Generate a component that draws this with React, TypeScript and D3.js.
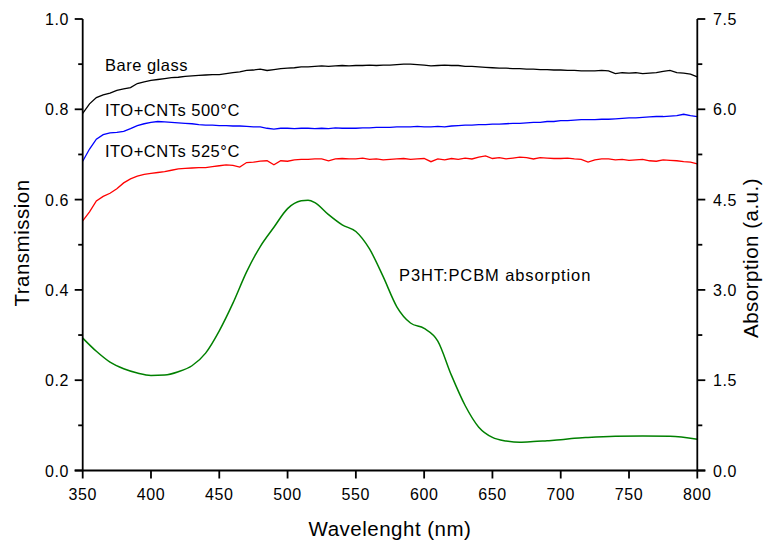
import React from "react";
import * as d3 from "d3";

const wavelengths: number[] = d3.range(350, 801, 5);

const bareGlass: number[] = [
  0.791, 0.812, 0.826, 0.832, 0.836, 0.842, 0.845, 0.848, 0.857, 0.861,
  0.864, 0.866, 0.868, 0.870, 0.871, 0.873, 0.874, 0.875, 0.876, 0.877,
  0.877, 0.879, 0.881, 0.883, 0.886, 0.887, 0.889, 0.886, 0.888, 0.890,
  0.891, 0.892, 0.894, 0.894, 0.895, 0.896, 0.895, 0.896, 0.897, 0.896,
  0.897, 0.897, 0.898, 0.897, 0.898, 0.898, 0.899, 0.900, 0.900, 0.899,
  0.898, 0.896, 0.897, 0.898, 0.897, 0.897, 0.895, 0.895, 0.894, 0.893,
  0.892, 0.891, 0.891, 0.890, 0.890, 0.889, 0.889, 0.888, 0.888, 0.887,
  0.887, 0.886, 0.886, 0.885, 0.885, 0.885, 0.886, 0.885, 0.879, 0.881,
  0.880, 0.881, 0.879, 0.880, 0.881, 0.884, 0.886, 0.881, 0.880, 0.878,
  0.872,
];

const ito500: number[] = [
  0.685, 0.712, 0.734, 0.744, 0.748, 0.749, 0.751, 0.757, 0.764, 0.768,
  0.771, 0.773, 0.772, 0.771, 0.770, 0.769, 0.768, 0.766, 0.765, 0.765,
  0.764, 0.764, 0.763, 0.763, 0.762, 0.761, 0.761, 0.758, 0.756, 0.758,
  0.758, 0.757, 0.758, 0.758, 0.757, 0.758, 0.757, 0.759, 0.758, 0.758,
  0.758, 0.759, 0.759, 0.760, 0.760, 0.760, 0.761, 0.761, 0.761, 0.762,
  0.761, 0.761, 0.762, 0.761, 0.763, 0.764, 0.765, 0.765, 0.766, 0.766,
  0.767, 0.767, 0.768, 0.769, 0.769, 0.770, 0.771, 0.771, 0.773, 0.773,
  0.775, 0.775, 0.776, 0.777, 0.777, 0.777, 0.778, 0.778, 0.779, 0.780,
  0.781, 0.781, 0.782, 0.783, 0.784, 0.784, 0.785, 0.786, 0.789, 0.786,
  0.784,
];

const ito525: number[] = [
  0.553, 0.573, 0.597, 0.607, 0.614, 0.624, 0.637, 0.646, 0.652, 0.656,
  0.658, 0.660, 0.662, 0.665, 0.668, 0.669, 0.670, 0.671, 0.671, 0.673,
  0.675, 0.677, 0.676, 0.672, 0.682, 0.683, 0.685, 0.686, 0.677, 0.686,
  0.685, 0.688, 0.689, 0.689, 0.690, 0.690, 0.686, 0.690, 0.691, 0.690,
  0.690, 0.692, 0.689, 0.690, 0.688, 0.689, 0.690, 0.691, 0.689, 0.690,
  0.691, 0.684, 0.690, 0.688, 0.691, 0.689, 0.692, 0.690, 0.694, 0.697,
  0.691, 0.693, 0.690, 0.692, 0.694, 0.693, 0.690, 0.693, 0.692, 0.691,
  0.691, 0.692, 0.690, 0.689, 0.683, 0.688, 0.690, 0.690, 0.688, 0.689,
  0.687, 0.688, 0.689, 0.686, 0.685, 0.688, 0.687, 0.686, 0.684, 0.683,
  0.679,
];

const absWavelengths: number[] = [
  350, 360, 370, 380, 390, 400, 410, 420, 430, 440, 450, 460, 470, 480, 490,
  500, 510, 515, 520, 530, 540, 550, 560, 570, 580, 590, 600, 610, 620, 630,
  640, 650, 660, 670, 680, 690, 700, 710, 720, 740, 760, 780, 800,
];
const absorption: number[] = [
  2.2, 1.98, 1.8, 1.69, 1.62, 1.58, 1.585, 1.64, 1.74, 1.95, 2.32, 2.78, 3.3,
  3.72, 4.04, 4.35, 4.48, 4.49, 4.45, 4.25, 4.08, 3.97, 3.68, 3.22, 2.72, 2.45,
  2.36, 2.15, 1.58, 1.08, 0.72, 0.55, 0.49, 0.47, 0.48, 0.495, 0.51, 0.535,
  0.55, 0.57, 0.575, 0.57, 0.52,
];

const xTicks: number[] = [350, 400, 450, 500, 550, 600, 650, 700, 750, 800];
const yLeftTicks: number[] = [0, 0.2, 0.4, 0.6, 0.8, 1.0];
const yLeftMinor: number[] = [0.1, 0.3, 0.5, 0.7, 0.9];
const yRightTicks: number[] = [0, 1.5, 3.0, 4.5, 6.0, 7.5];
const yRightMinor: number[] = [0.75, 2.25, 3.75, 5.25, 6.75];

const FONT = "'Liberation Sans', Arial, Helvetica, sans-serif";

export default function App() {
  const W = 765;
  const H = 545;
  const x = d3.scaleLinear().domain([350, 800]).range([82.7, 697.3]);
  const yL = d3.scaleLinear().domain([0, 1]).range([470.5, 19]);
  const yR = d3.scaleLinear().domain([0, 7.5]).range([470.5, 19]);

  const tLine = d3
    .line<number>()
    .x((_, i) => x(wavelengths[i]))
    .y((d) => yL(d));
  const aLine = d3
    .line<number>()
    .x((_, i) => x(absWavelengths[i]))
    .y((d) => yR(d))
    .curve(d3.curveMonotoneX);

  const x0 = x(350);
  const x1 = x(800);
  const yb = yL(0);
  const yt = yL(1);

  return (
    <svg
      width={W}
      height={H}
      style={{ position: "absolute", left: 0, top: 0, background: "#fff" }}
      fontFamily={FONT}
    >
      <rect width={W} height={H} fill="#fff" />
      {/* data */}
      <path d={tLine(bareGlass) || ""} fill="none" stroke="#000" strokeWidth={1.3} />
      <path d={tLine(ito500) || ""} fill="none" stroke="#0000ff" strokeWidth={1.3} />
      <path d={tLine(ito525) || ""} fill="none" stroke="#ff0000" strokeWidth={1.3} />
      <path d={aLine(absorption) || ""} fill="none" stroke="#008000" strokeWidth={1.5} />

      {/* axes */}
      <g stroke="#000" strokeWidth={1.8} fill="none">
        <line x1={x0} y1={yt} x2={x0} y2={yb} />
        <line x1={x1} y1={yt} x2={x1} y2={yb} />
        <line x1={x0 - 8} y1={yb} x2={x1 + 8} y2={yb} />
        {xTicks.map((t) => (
          <line key={"xt" + t} x1={x(t)} x2={x(t)} y1={yb} y2={yb + 8} />
        ))}
        {yLeftTicks.map((t) => (
          <line key={"yl" + t} x1={x0 - 8} x2={x0} y1={yL(t)} y2={yL(t)} />
        ))}
        {yLeftMinor.map((t) => (
          <line key={"ylm" + t} x1={x0 - 4.5} x2={x0} y1={yL(t)} y2={yL(t)} />
        ))}
        {yRightTicks.map((t) => (
          <line key={"yr" + t} x1={x1} x2={x1 + 8} y1={yR(t)} y2={yR(t)} />
        ))}
        {yRightMinor.map((t) => (
          <line key={"yrm" + t} x1={x1} x2={x1 + 5} y1={yR(t)} y2={yR(t)} />
        ))}
      </g>

      {/* tick labels */}
      <g fontSize={16} fill="#000" style={{ letterSpacing: "0.6px" }}>
        {xTicks.map((t) => (
          <text key={"xl" + t} x={x(t)} y={yb + 29} textAnchor="middle">
            {t}
          </text>
        ))}
        {yLeftTicks.map((t) => (
          <text key={"yll" + t} x={69} y={yL(t) + 6} textAnchor="end">
            {t.toFixed(1)}
          </text>
        ))}
        {yRightTicks.map((t) => (
          <text key={"yrl" + t} x={713} y={yR(t) + 6} textAnchor="start">
            {t.toFixed(1)}
          </text>
        ))}
      </g>

      {/* axis titles */}
      <text x={390} y={536} fontSize={20.5} textAnchor="middle" style={{ letterSpacing: "0.5px" }}>
        Wavelenght (nm)
      </text>
      <text
        transform="translate(29,243) rotate(-90)"
        fontSize={20.5}
        textAnchor="middle"
        style={{ letterSpacing: "0.5px" }}
      >
        Transmission
      </text>
      <text
        transform="translate(758,258) rotate(-90)"
        fontSize={20.5}
        textAnchor="middle"
        style={{ letterSpacing: "0.5px" }}
      >
        Absorption (a.u.)
      </text>

      {/* annotations */}
      <g fontSize={16.5} fill="#000" style={{ letterSpacing: "0.5px" }}>
        <text x={105} y={70.5}>Bare glass</text>
        <text x={105} y={116}>ITO+CNTs 500°C</text>
        <text x={105} y={157}>ITO+CNTs 525°C</text>
        <text x={399} y={280.5} style={{ letterSpacing: "0.9px" }}>P3HT:PCBM absorption</text>
      </g>
    </svg>
  );
}
